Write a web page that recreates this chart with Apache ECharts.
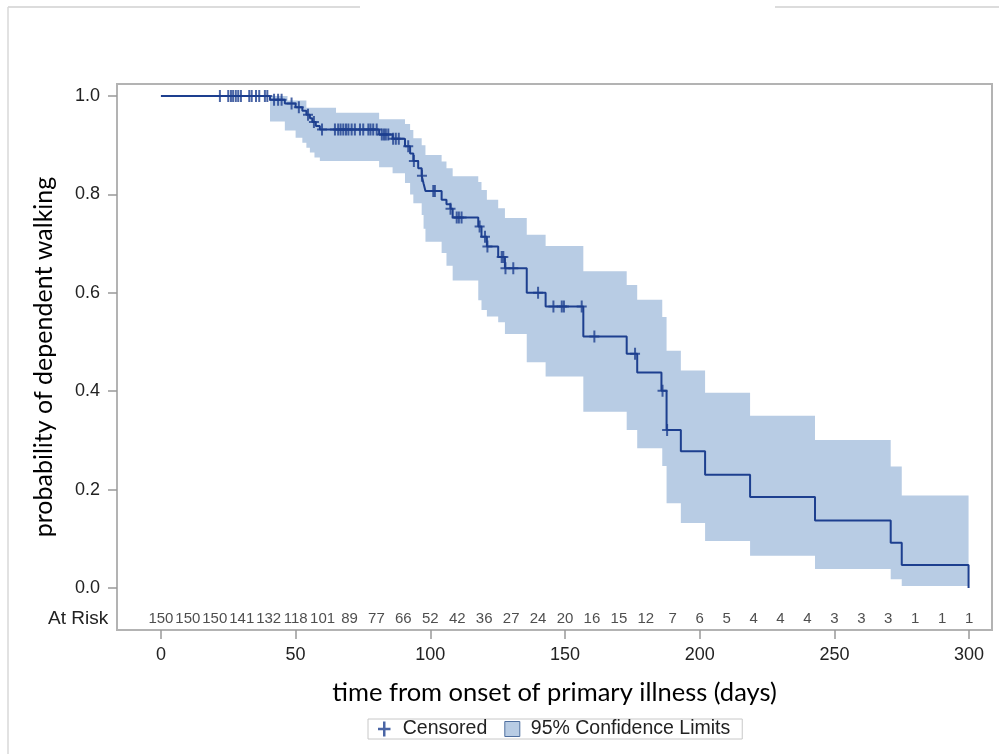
<!DOCTYPE html>
<html><head><meta charset="utf-8">
<script src="https://cdn.jsdelivr.net/npm/echarts@6/dist/echarts.min.js"></script>
<style>html,body{margin:0;padding:0;background:#fff}#c{width:999px;height:754px}</style>
</head><body><div id="c"></div>
<script>
const xTicks = [0, 50, 100, 150, 200, 250, 300];
const yTicks = [0, 0.2, 0.4, 0.6, 0.8, 1.0];
const riskTimes = [0,10,20,30,40,50,60,70,80,90,100,110,120,130,140,150,160,170,180,190,200,210,220,230,240,250,260,270,280,290,300];
const riskCounts = [150,150,150,141,132,118,101,89,77,66,52,42,36,27,24,20,16,15,12,7,6,5,4,4,4,3,3,3,1,1,1];

const kmTimes = [0,40.5,46,50,52.5,54,55.3,56.2,57.5,59,81,86,90.6,92.5,93.7,95.5,96.8,97.5,98.2,104.2,106,107.5,108.3,117.8,119,121,125.2,127.7,135.8,142.8,156.8,172.9,176.8,185.8,187.7,193,202,218.7,242.8,270.9,275,299.8];
const kmSurv  = [1.0,0.9925,0.985,0.977,0.970,0.962,0.955,0.947,0.939,0.932,0.922,0.913,0.898,0.883,0.868,0.853,0.838,0.822,0.807,0.789,0.780,0.771,0.753,0.735,0.714,0.694,0.673,0.650,0.600,0.572,0.511,0.476,0.438,0.401,0.321,0.278,0.230,0.185,0.137,0.092,0.0467,0.0];

const censorTimes = [21.9,25.0,26.0,26.8,27.8,28.7,29.7,32.8,33.7,35.3,36.5,38.6,39.5,42,43.5,44.8,48.5,51.2,54.6,56.8,59.8,64.6,65.8,66.7,67.7,68.7,69.6,70.8,72.0,73.9,75.1,77.0,77.8,78.8,80.1,82,82.8,83.5,84.4,86.2,87.2,88.3,91.8,93.9,96.9,101.1,101.7,107.5,109.8,110.6,111.6,118.3,120.3,121.2,126.5,127.1,127.9,130.8,140.0,145.7,148.8,149.6,156.2,160.9,176.0,186.2,187.9];
const censorSurv  = [1,1,1,1,1,1,1,1,1,1,1,1,1,0.9925,0.9925,0.9925,0.985,0.977,0.962,0.947,0.932,0.932,0.932,0.932,0.932,0.932,0.932,0.932,0.932,0.932,0.932,0.932,0.932,0.932,0.932,0.922,0.922,0.922,0.922,0.913,0.913,0.913,0.898,0.868,0.838,0.807,0.807,0.771,0.753,0.753,0.753,0.735,0.714,0.694,0.673,0.673,0.650,0.650,0.600,0.572,0.572,0.572,0.572,0.511,0.476,0.401,0.321];

const bandTimes = [40.5,46,47,50,52.5,54,55.3,57,59,65,81,86,90.6,92.5,93.7,96.8,97.5,98.2,104.2,106,108.3,117.8,119,121,125.2,127.7,135.8,142.8,156.8,172.9,176.8,186.1,187.7,193,202,218.7,242.8,270.9,275];
const bandLower = [0.948,0.93,0.93,0.915,0.905,0.895,0.885,0.875,0.868,0.868,0.855,0.843,0.823,0.80,0.782,0.758,0.73,0.704,0.681,0.655,0.625,0.585,0.565,0.552,0.540,0.516,0.459,0.430,0.358,0.321,0.284,0.248,0.172,0.132,0.0955,0.0657,0.0386,0.0177,0.004];
const bandUpper = [1.0,1.0,0.991,0.991,0.991,0.976,0.976,0.976,0.976,0.966,0.953,0.953,0.943,0.931,0.914,0.900,0.900,0.880,0.867,0.853,0.837,0.825,0.809,0.789,0.772,0.752,0.718,0.695,0.644,0.616,0.586,0.551,0.482,0.442,0.397,0.350,0.301,0.247,0.188];
const bandEnd = 299.8;

const riskRowY = -0.063;

const lineColor = '#1d3f8f';
const bandColor = '#b8cce4';
const plusPath = 'path://M4,0H6V12H4Z M0,5H10V7H0Z';

const chart = echarts.init(document.getElementById('c'));
chart.setOption({
  animation: false,
  backgroundColor: '#fff',
  grid: {left: 117, top: 84, width: 875, height: 546, show: true, borderColor: '#b3b3b3', borderWidth: 2, outerBoundsMode: 'none'},
  xAxis: {
    type: 'value', min: -16.3, max: 308.5,
    axisLine: {show: false, onZero: false},
    axisTick: {show: true, inside: false, length: 9, lineStyle: {color: '#999', width: 1.5}, customValues: xTicks},
    axisLabel: {customValues: xTicks, fontSize: 18, color: '#222', margin: 16, fontFamily: 'Liberation Sans'},
    splitLine: {show: false},
    name: 'time from onset of primary illness (days)', nameLocation: 'middle', nameGap: 50,
    nameTextStyle: {fontFamily: 'Lato', fontSize: 25.5, color: '#000'}
  },
  yAxis: {
    type: 'value', min: -0.0854, max: 1.0244,
    axisLine: {show: false, onZero: false},
    axisTick: {show: true, inside: false, length: 9, lineStyle: {color: '#999', width: 1.5}, customValues: yTicks},
    axisLabel: {customValues: yTicks, fontSize: 18, color: '#222', margin: 17, fontFamily: 'Liberation Sans', formatter: v => v.toFixed(1)},
    splitLine: {show: false},
    name: 'probability of dependent walking', nameLocation: 'middle', nameGap: 61,
    nameTextStyle: {fontFamily: 'Lato', fontSize: 25, color: '#000'}
  },
  legend: {
    left: 368, top: 719, orient: 'horizontal',
    borderColor: '#c8c8c8', borderWidth: 1, padding: [0, 12, 0, 10], itemGap: 17,
    itemWidth: 15, itemHeight: 15,
    textStyle: {fontFamily: 'Liberation Sans', fontSize: 19.5, color: '#222', padding: [0, 0, 0, 6]},
    data: [
      {name: 'Censored', icon: plusPath, itemStyle: {color: lineColor}},
      {name: '95% Confidence Limits', icon: 'rect', itemStyle: {color: bandColor, borderColor: '#4f6f9f', borderWidth: 1}}
    ]
  },
  graphic: [
    {type: 'line', shape: {x1: 8, y1: 7, x2: 360, y2: 7}, style: {stroke: '#d0d0d0', lineWidth: 1.5}, silent: true},
    {type: 'line', shape: {x1: 775, y1: 7, x2: 999, y2: 7}, style: {stroke: '#d0d0d0', lineWidth: 1.5}, silent: true},
    {type: 'line', shape: {x1: 8, y1: 7, x2: 8, y2: 754}, style: {stroke: '#d8d8d8', lineWidth: 1.5}, silent: true},
    {type: 'text', left: 48, top: 609, style: {text: 'At Risk', font: '19px "Liberation Sans"', fill: '#222'}}
  ],
  series: [
    {
      name: '95% Confidence Limits', type: 'custom', z: 1,
      itemStyle: {color: bandColor},
      data: bandTimes.map((t, i) => [t, bandLower[i], bandUpper[i]]),
      encode: {x: 0, y: [1, 2]},
      renderItem: function (params, api) {
        if (params.dataIndex !== 0) return null;
        const pts = [];
        const n = bandTimes.length;
        for (let i = 0; i < n; i++) {
          const t1 = i + 1 < n ? bandTimes[i + 1] : bandEnd;
          pts.push(api.coord([bandTimes[i], bandUpper[i]]), api.coord([t1, bandUpper[i]]));
        }
        for (let i = n - 1; i >= 0; i--) {
          const t1 = i + 1 < n ? bandTimes[i + 1] : bandEnd;
          pts.push(api.coord([t1, bandLower[i]]), api.coord([bandTimes[i], bandLower[i]]));
        }
        return {type: 'polygon', shape: {points: pts}, style: {fill: bandColor}};
      }
    },
    {
      name: 'Survival', type: 'line', step: 'end', z: 3, symbol: 'none',
      lineStyle: {color: lineColor, width: 2},
      data: kmTimes.map((t, i) => [t, kmSurv[i]])
    },
    {
      name: 'Censored', type: 'scatter', z: 4, symbol: plusPath, symbolSize: [10, 12],
      itemStyle: {color: lineColor},
      data: censorTimes.map((t, i) => [t, censorSurv[i]])
    },
    {
      name: 'AtRisk', type: 'scatter', z: 4, symbolSize: 1,
      itemStyle: {color: 'rgba(0,0,0,0)'},
      label: {show: true, position: 'inside', formatter: p => String(p.value[2]), fontSize: 15, color: '#222', fontFamily: 'Liberation Sans'},
      data: riskTimes.map((t, i) => [t, riskRowY, riskCounts[i]])
    }
  ]
});
</script></body></html>
